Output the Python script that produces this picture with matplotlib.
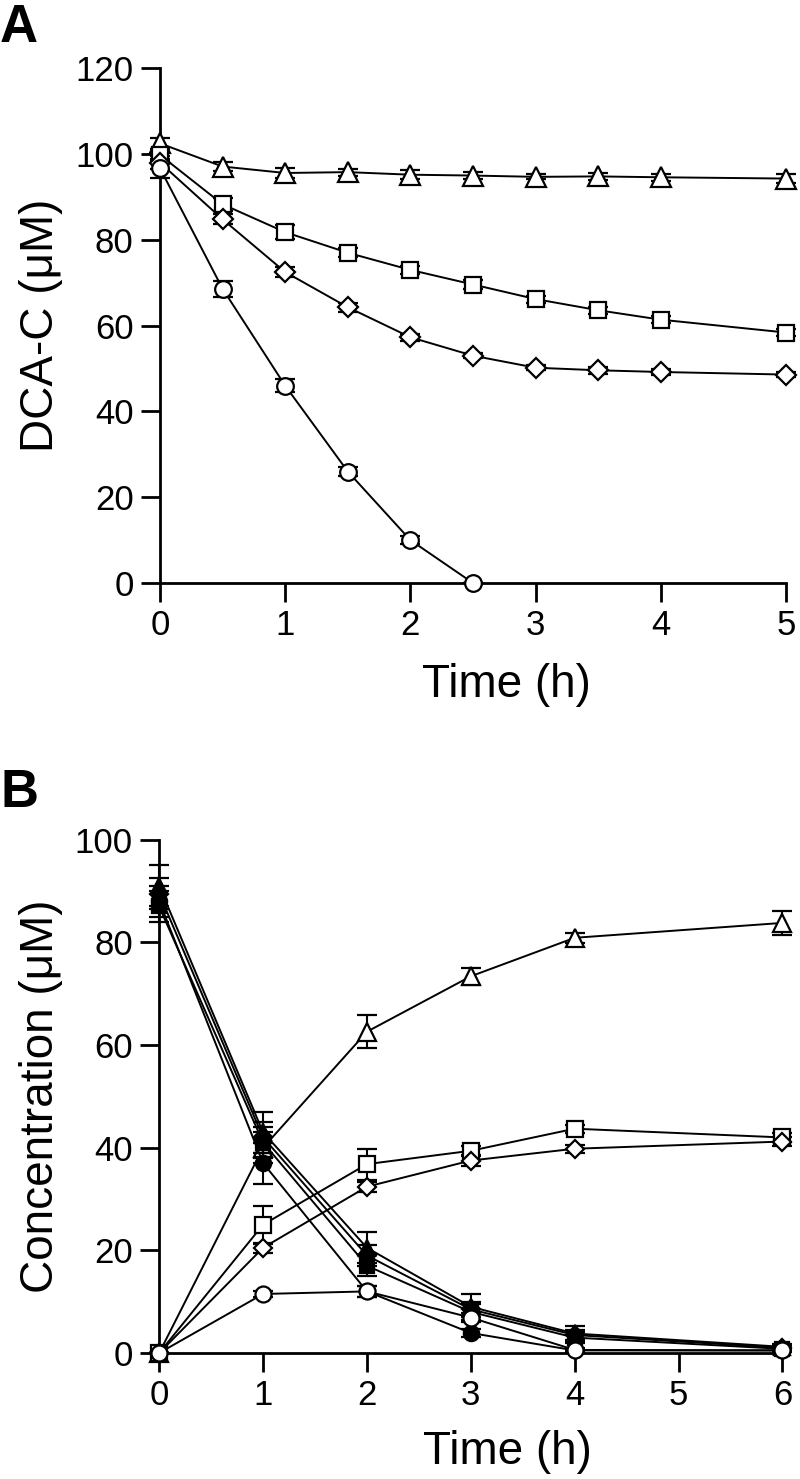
import matplotlib.pyplot as plt

plt.rcParams['font.family'] = ['Liberation Sans', 'DejaVu Sans']

# panel A: DCA-C over time
time_a = [0, 0.5, 1, 1.5, 2, 2.5, 3, 3.5, 4, 5]
tri_a = [102.5, 97.1, 95.6, 95.8, 95.2, 95.0, 94.7, 94.8, 94.6, 94.3]
tri_a_err = [1.3, 1.0, 1.2, 0.8, 1.0, 0.8, 0.6, 0.9, 0.8, 1.0]
sq_a = [99.8, 88.3, 81.8, 77.0, 73.0, 69.6, 66.2, 63.6, 61.4, 58.4]
sq_a_err = [1.5, 1.5, 1.6, 1.0, 1.0, 1.0, 0.8, 0.8, 0.8, 0.9]
dia_a = [98.0, 84.8, 72.5, 64.3, 57.3, 53.0, 50.2, 49.6, 49.2, 48.6]
dia_a_err = [1.5, 1.2, 1.2, 1.0, 0.8, 0.6, 0.6, 0.8, 0.6, 0.5]
time_a_circ = [0, 0.5, 1, 1.5, 2, 2.5]
circ_a = [96.7, 68.6, 46.0, 26.0, 10.0, 0.0]
circ_a_err = [2.2, 1.8, 1.5, 1.0, 1.0, 0.0]

# panel B: concentrations over time
time_b = [0, 1, 2, 3, 4, 6]
o_tri = [0, 40.0, 62.6, 73.4, 80.9, 83.8]
o_tri_err = [0, 3.0, 3.2, 1.7, 1.0, 2.3]
o_sq = [0, 25.0, 36.8, 39.4, 43.7, 42.0]
o_sq_err = [0, 3.7, 3.0, 1.0, 0.8, 0.8]
o_dia = [0, 20.5, 32.4, 37.5, 39.8, 41.2]
o_dia_err = [0, 1.0, 1.0, 1.0, 0.8, 0.8]
o_circ = [0, 11.5, 12.0, 6.9, 0.6, 0.5]
o_circ_err = [0, 0.5, 1.0, 0.8, 0.3, 0.3]
f_circ = [88.0, 37.0, 12.0, 3.9, 0.5, 0.5]
f_circ_err = [3.0, 4.0, 1.0, 0.8, 0.3, 0.3]
f_sq = [87.0, 41.0, 17.0, 8.0, 3.0, 0.8]
f_sq_err = [3.0, 3.0, 2.0, 1.5, 1.0, 0.5]
f_dia = [89.5, 42.0, 19.0, 8.5, 3.5, 1.0]
f_dia_err = [3.0, 3.0, 2.0, 1.5, 1.0, 0.5]
f_tri = [91.0, 43.0, 20.5, 9.0, 3.8, 1.2]
f_tri_err = [4.0, 4.0, 3.0, 2.5, 1.5, 0.5]

fig = plt.figure(figsize=(8, 14.79), dpi=100)
ax1 = fig.add_axes([0.2, 0.6058, 0.7825, 0.348])
ax2 = fig.add_axes([0.199, 0.0852, 0.779, 0.347])

style = dict(color='black', lw=1.4, elinewidth=1.5, capsize=7.5, capthick=1.5,
             mec='black', mew=1.6, clip_on=False)


def series(ax, x, y, err, marker, ms, fill='white', z=3):
    ax.errorbar(x, y, yerr=err, marker=marker, ms=ms, mfc=fill, zorder=z, **style)


series(ax1, time_a, tri_a, tri_a_err, '^', 14)
series(ax1, time_a, sq_a, sq_a_err, 's', 11.5)
series(ax1, time_a, dia_a, dia_a_err, 'D', 10)
series(ax1, time_a_circ, circ_a, circ_a_err, 'o', 12)

series(ax2, time_b, o_tri, o_tri_err, '^', 13, z=2)
series(ax2, time_b, o_sq, o_sq_err, 's', 11, z=2)
series(ax2, time_b, o_dia, o_dia_err, 'D', 9.5, z=2)
series(ax2, time_b, f_circ, f_circ_err, 'o', 11, fill='black', z=3)
series(ax2, time_b, f_sq, f_sq_err, 's', 10.5, fill='black', z=3)
series(ax2, time_b, f_dia, f_dia_err, 'D', 9.5, fill='black', z=3)
series(ax2, time_b, f_tri, f_tri_err, '^', 12, fill='black', z=3)
series(ax2, time_b, o_circ, o_circ_err, 'o', 11.5, z=4)

ax1.set_xlim(0, 5)
ax1.set_ylim(0, 120)
ax1.set_xticks(range(0, 6))
ax1.set_yticks(range(0, 121, 20))
ax1.set_xlabel('Time (h)', fontsize=33)
ax1.set_ylabel('DCA-C (μM)', fontsize=33)
ax1.xaxis.set_label_coords(0.553, -0.155)
ax1.yaxis.set_label_coords(-0.155, 0.5)

ax2.set_xlim(0, 6)
ax2.set_ylim(0, 100)
ax2.set_xticks(range(0, 7))
ax2.set_yticks(range(0, 101, 20))
ax2.set_xlabel('Time (h)', fontsize=33)
ax2.set_ylabel('Concentration (μM)', fontsize=33)
ax2.xaxis.set_label_coords(0.559, -0.15)
ax2.yaxis.set_label_coords(-0.155, 0.5)

for ax in (ax1, ax2):
    for s in ('top', 'right'):
        ax.spines[s].set_visible(False)
    for s in ('left', 'bottom'):
        ax.spines[s].set_linewidth(2.0)
    ax.tick_params(direction='out', length=14, width=2.0, labelsize=25, pad=5)

fig.text(0.0, 0.981, 'A', fontsize=38, fontweight='bold', va='center')
fig.text(0.0, 0.4638, 'B', fontsize=38, fontweight='bold', va='center')

fig.savefig('out.png', dpi=100)
